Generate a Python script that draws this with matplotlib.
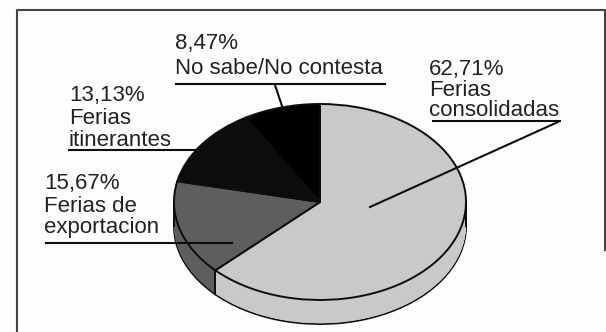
import matplotlib
matplotlib.use("Agg")
import matplotlib.pyplot as plt
import numpy as np

shares = [62.71, 15.67, 13.13, 8.47]
names = ["Ferias\nconsolidadas", "Ferias de\nexportacion", "Ferias\nitinerantes", "No sabe/No contesta"]
top_colors = ["#c9c9c9", "#5e5e5e", "#0d0d0d", "#000000"]

W, H = 606, 332
CX, CY = 320, 202
RX, RY = 146, 98
DEPTH = 24 / RY
INK = "#0d0d0d"

# label left edge, first line centre, line spacing, underline, leader
label_layout = [
    dict(x=429, y=69, step=21, rule=(433, 560, 121), lead=((558, 122), (370, 207))),
    dict(x=44, y=184, step=22, rule=(46, 232, 243), lead=None),
    dict(x=69, y=95, step=23, rule=(69, 237, 149.5), lead=None),
    dict(x=175, y=43, step=25, rule=(176, 385, 84), lead=((275, 85), (282, 106))),
]

plt.rcParams["font.family"] = ["Liberation Sans", "DejaVu Sans"]

fig = plt.figure(figsize=(W / 100, H / 100), dpi=100, facecolor="#fdfdfd")

# pie axes: unit circle squashed into an ellipse by the axis limits
ax = fig.add_axes([0, 0, 1, 1])
pie_style = dict(startangle=90, counterclock=False, colors=top_colors, radius=1)

ax.pie(shares, center=(0, -DEPTH), wedgeprops=dict(edgecolor=INK, linewidth=1.4), **pie_style)
for off in np.linspace(DEPTH, 0, 40)[1:-1]:
    ax.pie(shares, center=(0, -off), wedgeprops=dict(linewidth=0), **pie_style)
ax.pie(shares, center=(0, 0), wedgeprops=dict(edgecolor=INK, linewidth=1.4), **pie_style)

# rim edges at both ends and at the front slice boundary
front = np.deg2rad(90 - 360 * shares[0] / sum(shares))
for x0, y0 in [(-1, 0), (1, 0), (np.cos(front), np.sin(front))]:
    ax.plot([x0, x0], [y0, y0 - DEPTH], color=INK, lw=1.4)

ax.set_aspect("auto")
ax.set_xlim(-CX / RX, (W - CX) / RX)
ax.set_ylim(-(H - CY) / RY, CY / RY)
ax.axis("off")

# overlay in pixel coordinates for frame, labels and leaders
ov = fig.add_axes([0, 0, 1, 1], facecolor="none")
ov.set_xlim(0, W)
ov.set_ylim(H, 0)
ov.axis("off")

ov.plot([16.5, 16.5, 605, 605], [332, 10, 10, 250], color="#444444", lw=1.5)

for share, name, lay in zip(shares, names, label_layout):
    pct = f"{share:.2f}%".replace(".", ",")
    for i, line in enumerate([pct] + name.split("\n")):
        ov.text(lay["x"], lay["y"] + i * lay["step"], line, fontsize=16,
                color="#222222", va="center", ha="left")
    x0, x1, yr = lay["rule"]
    ov.plot([x0, x1], [yr, yr], color=INK, lw=1.5)
    if lay["lead"]:
        (xa, ya), (xb, yb) = lay["lead"]
        ov.plot([xa, xb], [ya, yb], color=INK, lw=1.5)

fig.savefig("out.png", dpi=100, facecolor=fig.get_facecolor())
